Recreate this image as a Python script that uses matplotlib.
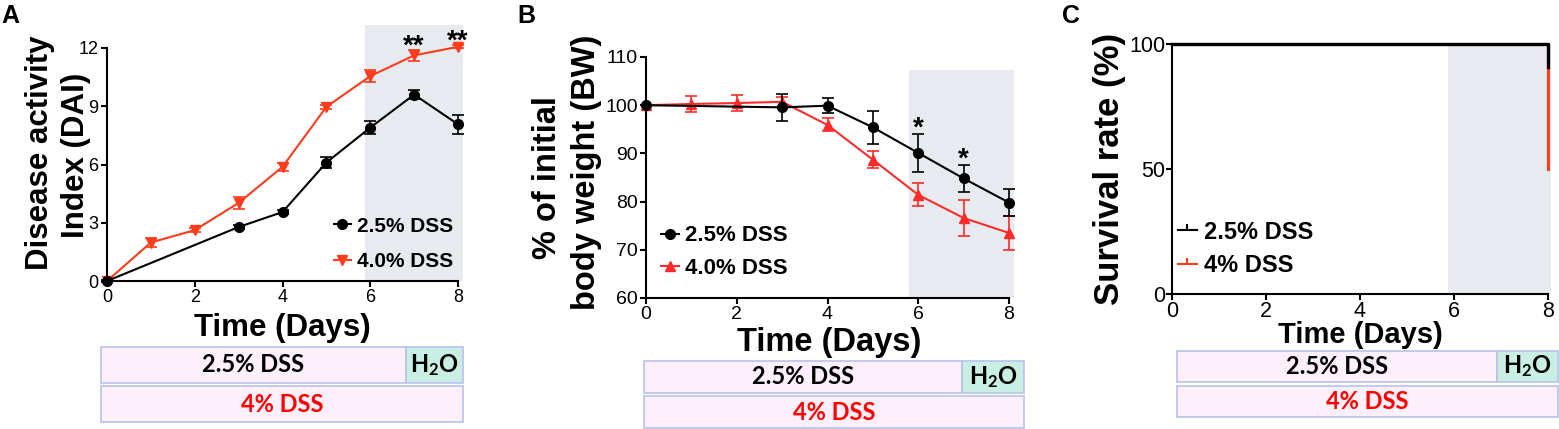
import matplotlib
matplotlib.use("Agg")
import matplotlib.pyplot as plt
from matplotlib.lines import Line2D
from matplotlib.patches import Rectangle

# ── data ────────────────────────────────────────────────────────────────────
DAI_DAYS_25 = [0, 3, 4, 5, 6, 7, 8]
DAI_25 = [0, 2.78, 3.55, 6.10, 7.90, 9.60, 8.07]
DAI_25_ERR = [0.05, 0.10, 0.10, 0.30, 0.33, 0.25, 0.50]
DAI_DAYS_40 = [0, 1, 2, 3, 4, 5, 6, 7, 8]
DAI_40 = [0, 1.98, 2.62, 4.02, 5.88, 8.97, 10.55, 11.62, 12.06]
DAI_40_ERR = [0, 0.22, 0.12, 0.30, 0.20, 0.10, 0.30, 0.30, 0.08]
DAI_STARS = {7: "**", 8: "**"}

BW_DAYS_25 = [0, 3, 4, 5, 6, 7, 8]
BW_25 = [100, 99.55, 99.9, 95.4, 90.1, 84.8, 79.8]
BW_25_ERR = [0, 2.8, 1.6, 3.35, 3.9, 2.8, 2.8]
BW_DAYS_40 = [0, 1, 2, 3, 4, 5, 6, 7, 8]
BW_40 = [100, 100.25, 100.45, 100.7, 95.9, 88.7, 81.4, 76.6, 73.5]
BW_40_ERR = [0, 1.65, 1.65, 1.0, 1.35, 1.8, 2.4, 3.7, 3.5]
BW_STARS = {6: "*", 7: "*"}

SURV_DAYS = [0, 8]
SURV_25 = [100, 91]
SURV_40 = [100, 50]

LABEL_25 = "2.5% DSS"
LABEL_40A = "4.0% DSS"
LABEL_40C = "4% DSS"

# ── style ───────────────────────────────────────────────────────────────────
RED_A = "#ff3c1c"
RED_B = "#ff2b2b"
RED_C = "#ff3c1c"
SHADE = "#e7ebef"
BOX_FILL = "#fdf0fb"
BOX_EDGE = "#b7c2ea"
H2O_FILL = "#c9eee4"
ARIAL = "Liberation Sans"
CALIBRI = "Lato"

plt.rcParams.update({
    "font.family": ARIAL,
    "axes.linewidth": 1.5,
    "xtick.major.width": 1.5, "ytick.major.width": 1.5,
    "xtick.major.size": 4, "ytick.major.size": 4,
    "axes.spines.top": False, "axes.spines.right": False,
    "mathtext.fontset": "custom",
    "mathtext.rm": CALIBRI, "mathtext.bf": f"{CALIBRI}:bold",
})

W, H = 1559, 429
fig = plt.figure(figsize=(W / 100, H / 100), dpi=100)


def px_axes(left, right, bottom_px, top_px):
    """Axes placed by pixel edges (top-left origin)."""
    return fig.add_axes([left / W, 1 - bottom_px / H,
                         (right - left) / W, (bottom_px - top_px) / H])


def px_point(x, y):
    return (x / W, 1 - y / H)


def add_legend(ax, handles, labels, left_px, mid_px, size, spacing):
    ax.legend(handles=handles, labels=labels, loc="center left",
              bbox_to_anchor=px_point(left_px, mid_px),
              bbox_transform=fig.transFigure, frameon=False,
              borderpad=0, borderaxespad=0, handlelength=0.8,
              handletextpad=0.3, labelspacing=spacing,
              prop={"family": ARIAL, "weight": "bold", "size": size})


# ── panel A ─────────────────────────────────────────────────────────────────
# x = 0 at 107 px, x = 8 at 458 px; y = 0 at 281 px, y = 12 at 48 px
axA = px_axes(107, 107 + 351 / 8 * 8.15, 281, 281 - 233 / 12 * 13.2)
axA.set_xlim(0, 8.15)
axA.set_ylim(0, 13.2)
axA.spines["left"].set_bounds(0, 12)
axA.spines["bottom"].set_bounds(0, 8)
axA.axvspan(5.87, 8.12, color=SHADE, lw=0, zorder=0)
axA.errorbar(DAI_DAYS_25, DAI_25, yerr=DAI_25_ERR, color="black", lw=1.5,
             marker="o", ms=7, capsize=4, elinewidth=1.2, capthick=1.2,
             clip_on=False, zorder=4)
axA.errorbar(DAI_DAYS_40, DAI_40, yerr=DAI_40_ERR, color=RED_A, lw=1.5,
             marker="v", ms=7, capsize=4, elinewidth=1.2, capthick=1.2,
             clip_on=False, zorder=3)
for d, s in DAI_STARS.items():
    i = DAI_DAYS_40.index(d)
    axA.annotate(s, (d, DAI_40[i] + DAI_40_ERR[i]), xytext=(0, -7),
                 textcoords="offset points", ha="center", va="bottom",
                 fontsize=20, fontweight="bold", annotation_clip=False)
axA.set_xticks([0, 2, 4, 6, 8])
axA.set_yticks([0, 3, 6, 9, 12])
axA.tick_params(labelsize=13, pad=2)
add_legend(axA, [Line2D([], [], color="black", marker="o", ms=7, lw=1.5),
                 Line2D([], [], color=RED_A, marker="v", ms=7, lw=1.5)],
           [LABEL_25, LABEL_40A], 334, 244, 15, 0.8)

# ── panel B ─────────────────────────────────────────────────────────────────
# x = 0 at 646 px, x = 8 at 1009 px; y = 60 at 298 px, y = 110 at 57 px
axB = px_axes(646, 646 + 363 / 8 * 8.15, 298, 57)
axB.set_xlim(0, 8.15)
axB.set_ylim(60, 110)
axB.spines["bottom"].set_bounds(0, 8)
axB.fill_between([5.8, 8.12], 60, 107.4, color=SHADE, lw=0, zorder=0)
axB.errorbar(BW_DAYS_40, BW_40, yerr=BW_40_ERR, color=RED_B, lw=1.5,
             marker="^", ms=7, capsize=4.5, elinewidth=1.2, capthick=1.2,
             clip_on=False, zorder=3)
axB.errorbar(BW_DAYS_25, BW_25, yerr=BW_25_ERR, color="black", lw=1.5,
             marker="o", ms=7, capsize=4.5, elinewidth=1.2, capthick=1.2,
             clip_on=False, zorder=4)
for d, s in BW_STARS.items():
    i = BW_DAYS_25.index(d)
    axB.annotate(s, (d, BW_25[i] + BW_25_ERR[i]), xytext=(0, -5.5),
                 textcoords="offset points", ha="center", va="bottom",
                 fontsize=20, fontweight="bold", annotation_clip=False)
axB.set_xticks([0, 2, 4, 6, 8])
axB.set_yticks([60, 70, 80, 90, 100, 110])
axB.tick_params(labelsize=14, pad=2)
add_legend(axB, [Line2D([], [], color="black", marker="o", ms=7, lw=1.5),
                 Line2D([], [], color=RED_B, marker="^", ms=7, lw=1.5)],
           [LABEL_25, LABEL_40A], 661, 252, 16, 0.5)

# ── panel C ─────────────────────────────────────────────────────────────────
# x = 0 at 1172 px, x = 8 at 1548 px; y = 0 at 294 px, y = 100 at 44 px
axC = px_axes(1172, 1172 + 376 / 8 * 8.1, 294, 44)
axC.set_xlim(0, 8.1)
axC.set_ylim(0, 100)
axC.spines["bottom"].set_bounds(0, 8)
axC.axvspan(5.87, 8.07, color=SHADE, lw=0, zorder=0)
axC.step(SURV_DAYS, SURV_40, where="post", color=RED_C, lw=2.2,
         clip_on=False, zorder=3)
axC.step(SURV_DAYS, SURV_25, where="post", color="black", lw=2.4,
         clip_on=False, zorder=4)
axC.set_xticks([0, 2, 4, 6, 8])
axC.set_yticks([0, 50, 100])
axC.tick_params(labelsize=15.5, pad=1)
add_legend(axC, [Line2D([], [], color="black", marker=2, ms=4, mew=1.5, lw=1.5),
                 Line2D([], [], color=RED_C, marker=2, ms=4, mew=1.5, lw=1.5)],
           [LABEL_25, LABEL_40C], 1178, 249, 17, 0.45)

# ── axis titles and panel letters (placed in pixels) ────────────────────────
def fig_text(x, y, s, **kw):
    fig.text(*px_point(x, y), s, ha="center", va="center", **kw)


# two-line y titles are set one line at a time
for x, y, s in ((40, 153, "Disease activity"), (76, 155, "Index (DAI)")):
    fig_text(x, y, s, rotation=90, fontsize=22.5, fontweight="bold")
for x, y, s in ((547, 178, "% of initial"), (586, 172, "body weight (BW)")):
    fig_text(x, y, s, rotation=90, fontsize=23.5, fontweight="bold")
fig_text(1110, 169, "Survival rate (%)", rotation=90,
         fontsize=25, fontweight="bold")
fig_text(282, 328, "Time (Days)", fontsize=22.5, fontweight="bold")
fig_text(829, 343, "Time (Days)", fontsize=23.5, fontweight="bold")
fig_text(1360, 335, "Time (Days)", fontsize=21, fontweight="bold")
for x, s in ((10, "A"), (526, "B"), (1071, "C")):
    fig_text(x, 16, s, fontsize=18, fontweight="bold")

# ── treatment boxes under each panel ───────────────────────────────────────
overlay = fig.add_axes([0, 0, 1, 1], zorder=-1)
overlay.set_xlim(0, W)
overlay.set_ylim(H, 0)
overlay.axis("off")

BOXES = [  # x0, x1, water split, row 1 top/bottom, row 2 top/bottom, text size
    (101, 463, 406, (347, 383), (386, 422), 17),
    (644, 1024, 962, (361, 393), (396, 428), 17),
    (1177, 1558, 1497, (351, 382), (386, 417), 17),
]
for x0, x1, split, r1, r2, fs in BOXES:
    for (a, b, fill) in ((x0, split, BOX_FILL), (split, x1, H2O_FILL)):
        overlay.add_patch(Rectangle((a, r1[0]), b - a, r1[1] - r1[0],
                                    facecolor=fill, edgecolor=BOX_EDGE, lw=1.2))
    overlay.add_patch(Rectangle((x0, r2[0]), x1 - x0, r2[1] - r2[0],
                                facecolor=BOX_FILL, edgecolor=BOX_EDGE, lw=1.2))
    kw = dict(ha="center", va="center", fontsize=fs, fontweight="bold",
              family=CALIBRI)
    overlay.text((x0 + split) / 2, sum(r1) / 2, LABEL_25, color="black", **kw)
    overlay.text((split + x1) / 2, sum(r1) / 2, r"$\mathbf{H_2O}$", color="black", **kw)
    overlay.text((x0 + x1) / 2, sum(r2) / 2, LABEL_40C, color="#ff0000", **kw)

fig.savefig("out.png", dpi=100)
